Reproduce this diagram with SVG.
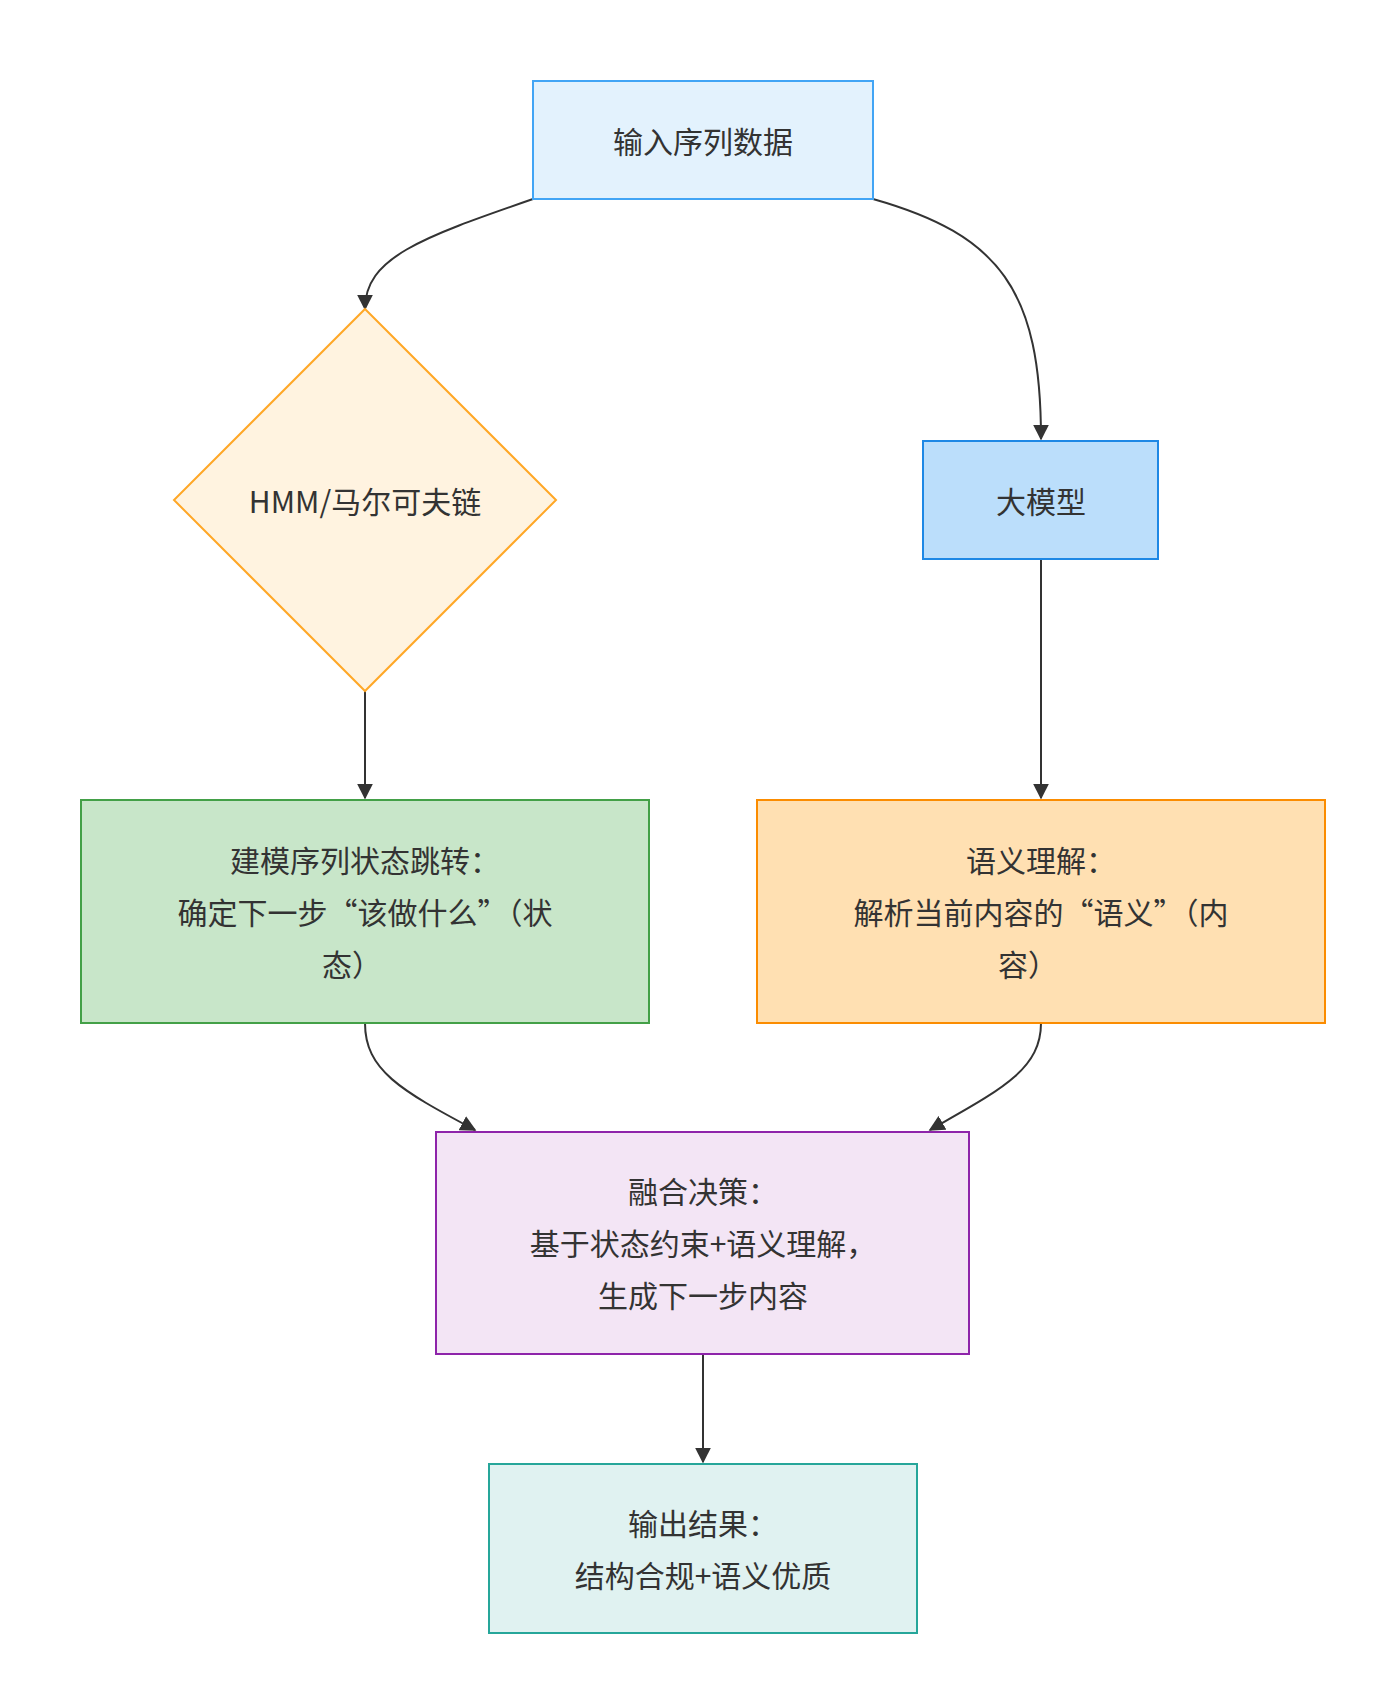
<svg xmlns="http://www.w3.org/2000/svg" width="1400" height="1708" viewBox="0 0 1400 1708">
<defs>
<style>
text{font-family:"Noto Sans CJK SC","Noto Sans",sans-serif;font-size:30px;fill:#333;text-anchor:middle;dominant-baseline:central}
.c{fill:none;stroke:#333;stroke-width:2}
.n{stroke-width:2}
</style>
<marker id="a" viewBox="0 0 10 10" refX="9" refY="5" markerWidth="8" markerHeight="8" orient="auto-start-reverse"><path d="M0,0L10,5L0,10z" fill="#333"/></marker>
</defs>
<rect width="1400" height="1708" fill="#fff"/>
<g id="connectors">
<path class="c" marker-end="url(#a)" d="M533,199 C420,238 365,258 365,309"/>
<path class="c" marker-end="url(#a)" d="M873,199 C1000,235 1041,290 1041,439"/>
<path class="c" marker-end="url(#a)" d="M365,691 L365,798"/>
<path class="c" marker-end="url(#a)" d="M1041,559 L1041,798"/>
<path class="c" marker-end="url(#a)" d="M365,1023 C365,1070 400,1090 475,1130"/>
<path class="c" marker-end="url(#a)" d="M1041,1023 C1041,1070 1000,1090 930,1130"/>
<path class="c" marker-end="url(#a)" d="M703,1354 L703,1462"/>
</g>
<g id="n1"><rect class="n" x="533" y="81" width="340" height="118" fill="#e3f2fd" stroke="#42a5f5"/><text x="703" y="140">输入序列数据</text></g>
<g id="n2"><polygon class="n" points="365,309 556,500 365,691 174,500" fill="#fff3e0" stroke="#ffa726"/><text x="365" y="500">HMM/马尔可夫链</text></g>
<g id="n3"><rect class="n" x="923" y="441" width="235" height="118" fill="#bbdefb" stroke="#1e88e5"/><text x="1041" y="500">大模型</text></g>
<g id="n4"><rect class="n" x="81" y="800" width="568" height="223" fill="#c8e6c9" stroke="#43a047"/><text x="365" y="859">建模序列状态跳转：</text><text x="365" y="911">确定下一步“该做什么”（状</text><text x="352" y="963">态）</text></g>
<g id="n5"><rect class="n" x="757" y="800" width="568" height="223" fill="#ffe0b2" stroke="#fb8c00"/><text x="1041" y="859">语义理解：</text><text x="1041" y="911">解析当前内容的“语义”（内</text><text x="1028" y="963">容）</text></g>
<g id="n6"><rect class="n" x="436" y="1132" width="533" height="222" fill="#f3e5f5" stroke="#8e24aa"/><text x="703" y="1190">融合决策：</text><text x="703" y="1242">基于状态约束+语义理解，</text><text x="703" y="1294">生成下一步内容</text></g>
<g id="n7"><rect class="n" x="489" y="1464" width="428" height="169" fill="#e0f2f1" stroke="#26a69a"/><text x="703" y="1522">输出结果：</text><text x="703" y="1574">结构合规+语义优质</text></g>
</svg>
